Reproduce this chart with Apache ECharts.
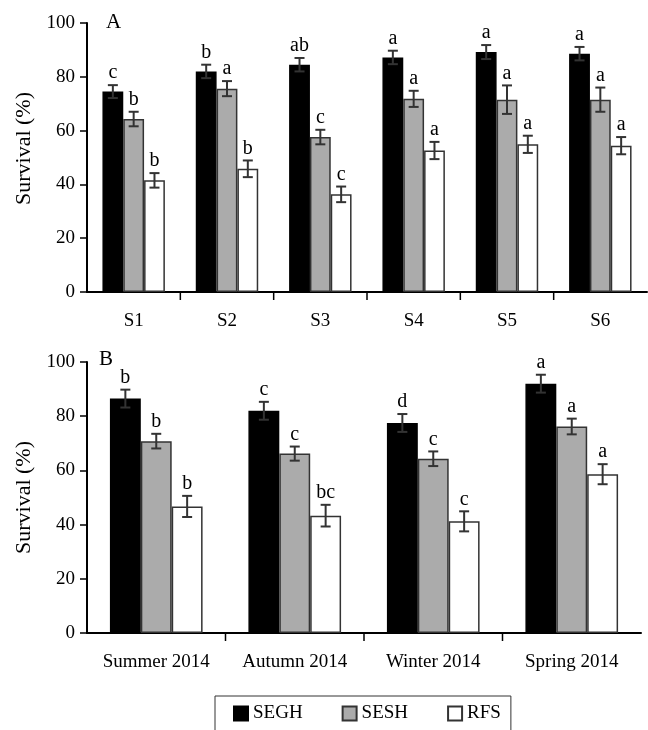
<!DOCTYPE html>
<html>
<head>
<meta charset="utf-8">
<script src="https://cdn.jsdelivr.net/npm/echarts@6/dist/echarts.min.js"></script>
<style>html,body{margin:0;padding:0;background:#fff}#c{width:648px;height:730px}</style>
</head>
<body>
<div id="c"></div>
<script>
var seriesNames = ['SEGH', 'SESH', 'RFS'];
var categoriesA = ['S1', 'S2', 'S3', 'S4', 'S5', 'S6'];
var categoriesB = ['Summer 2014', 'Autumn 2014', 'Winter 2014', 'Spring 2014'];
var yTicks = [0, 20, 40, 60, 80, 100];

var seghA = [74.5, 82.0, 84.5, 87.2, 89.2, 88.6];
var seshA = [64.3, 75.6, 57.6, 71.8, 71.5, 71.5];
var rfsA  = [41.5, 45.8, 36.3, 52.6, 54.9, 54.4];
var seghErrA = [2.4, 2.5, 2.5, 2.5, 2.6, 2.5];
var seshErrA = [2.7, 2.8, 2.7, 3.0, 5.3, 4.5];
var rfsErrA  = [2.7, 3.1, 2.9, 3.2, 3.2, 3.2];
var seghLetA = ['c', 'b', 'ab', 'a', 'a', 'a'];
var seshLetA = ['b', 'a', 'c', 'a', 'a', 'a'];
var rfsLetA  = ['b', 'b', 'c', 'a', 'a', 'a'];

var seghB = [86.5, 82.0, 77.5, 92.0];
var seshB = [70.8, 66.2, 64.3, 76.2];
var rfsB  = [46.7, 43.3, 41.2, 58.6];
var seghErrB = [3.3, 3.3, 3.3, 3.3];
var seshErrB = [2.7, 2.6, 2.7, 2.9];
var rfsErrB  = [3.9, 4.0, 3.7, 3.7];
var seghLetB = ['b', 'c', 'd', 'a'];
var seshLetB = ['b', 'c', 'c', 'a'];
var rfsLetB  = ['b', 'bc', 'c', 'a'];

var FONT = 'Liberation Serif, Times New Roman, serif';
var BW = 0.223;
var colors = ['#000000', '#ababab', '#ffffff'];
var borders = ['#000000', '#333333', '#333333'];

function yAxisCfg(gi, namePad) {
  return {
    gridIndex: gi, type: 'value', min: yTicks[0], max: yTicks[yTicks.length - 1], interval: 20,
    name: 'Survival (%)', nameLocation: 'middle', nameGap: 52,
    nameTextStyle: { fontFamily: FONT, fontSize: 22, color: '#000', padding: namePad },
    axisLine: { show: true, lineStyle: { color: '#000', width: 2 } },
    axisTick: { show: true, length: 7, lineStyle: { color: '#000', width: 1.5 } },
    axisLabel: { fontFamily: FONT, fontSize: 19, color: '#000', margin: 12 },
    splitLine: { show: false }
  };
}
function xAxisCfg(gi, cats) {
  return {
    gridIndex: gi, type: 'category', data: cats,
    axisLine: { show: true, lineStyle: { color: '#000', width: 2 } },
    axisTick: { show: false },
    axisLabel: { fontFamily: FONT, fontSize: 19, color: '#000', margin: 20, interval: 0 }
  };
}

function barSeries(k, gi, vals) {
  return {
    type: 'bar', name: seriesNames[k], xAxisIndex: gi, yAxisIndex: gi,
    data: vals, barWidth: (BW * 100) + '%', barGap: '0%',
    itemStyle: { color: colors[k], borderColor: borders[k], borderWidth: 1.5 },
    emphasis: { disabled: true }, z: 2
  };
}

function errSeries(k, gi, vals, errs, lets) {
  var data = vals.map(function (v, i) { return [i, v, errs[i]]; });
  return {
    type: 'custom', xAxisIndex: gi, yAxisIndex: gi, z: 3, silent: true,
    data: data,
    renderItem: function (params, api) {
      var ci = api.value(0), v = api.value(1), e = api.value(2);
      var band = api.size([1, 0])[0];
      var bw = band * BW;
      var cx = api.coord([ci, v])[0] + (k - 1) * bw;
      var yt = api.coord([ci, v + e])[1];
      var yb = api.coord([ci, v - e])[1];
      var cap = 5;
      var ls = { stroke: '#333', lineWidth: 2 };
      return {
        type: 'group',
        children: [
          { type: 'line', shape: { x1: cx, y1: yt, x2: cx, y2: yb }, style: ls },
          { type: 'line', shape: { x1: cx - cap, y1: yt, x2: cx + cap, y2: yt }, style: ls },
          { type: 'line', shape: { x1: cx - cap, y1: yb, x2: cx + cap, y2: yb }, style: ls },
          { type: 'text', style: { text: lets[params.dataIndex], x: cx, y: yt - 2,
              align: 'center', verticalAlign: 'bottom', fontFamily: FONT, fontSize: 20, fill: '#000' } }
        ]
      };
    }
  };
}

function tickSeries(gi, n) {
  var data = [];
  for (var i = 1; i < n; i++) data.push([i, 0]);
  return {
    type: 'custom', xAxisIndex: gi, yAxisIndex: gi, silent: true, z: 4, clip: false,
    data: data,
    renderItem: function (params, api) {
      var band = api.size([1, 0])[0];
      var p = api.coord([api.value(0), api.value(1)]);
      var x = p[0] - band / 2;
      return { type: 'line', shape: { x1: x, y1: p[1], x2: x, y2: p[1] + 8 },
        style: { stroke: '#000', lineWidth: 1.5 } };
    }
  };
}

var chart = echarts.init(document.getElementById('c'), null, { renderer: 'canvas' });
chart.setOption({
  backgroundColor: '#fff',
  animation: false,
  textStyle: { fontFamily: FONT },
  grid: [
    { left: 87, top: 23, width: 560, height: 269 },
    { left: 87, top: 362, width: 554, height: 271 }
  ],
  xAxis: [xAxisCfg(0, categoriesA), xAxisCfg(1, categoriesB)],
  yAxis: [yAxisCfg(0, [0, 0, 0, 18]), yAxisCfg(1, 0)],
  legend: {
    data: seriesNames, left: 215, top: 696,
    padding: [8, 10, 30, 18], itemGap: 39, itemWidth: 14, itemHeight: 14,
    borderColor: '#333', borderWidth: 1, icon: 'rect',
    textStyle: { fontFamily: FONT, fontSize: 19, color: '#000' },
    selectedMode: false
  },
  graphic: [
    { type: 'text', left: 106, top: 12, style: { text: 'A', fontFamily: FONT, fontSize: 21, fill: '#000' } },
    { type: 'text', left: 99, top: 349, style: { text: 'B', fontFamily: FONT, fontSize: 21, fill: '#000' } }
  ],
  series: [
    barSeries(0, 0, seghA), barSeries(1, 0, seshA), barSeries(2, 0, rfsA),
    barSeries(0, 1, seghB), barSeries(1, 1, seshB), barSeries(2, 1, rfsB),
    errSeries(0, 0, seghA, seghErrA, seghLetA), errSeries(1, 0, seshA, seshErrA, seshLetA), errSeries(2, 0, rfsA, rfsErrA, rfsLetA),
    errSeries(0, 1, seghB, seghErrB, seghLetB), errSeries(1, 1, seshB, seshErrB, seshLetB), errSeries(2, 1, rfsB, rfsErrB, rfsLetB),
    tickSeries(0, categoriesA.length), tickSeries(1, categoriesB.length)
  ]
});
</script>
</body>
</html>
